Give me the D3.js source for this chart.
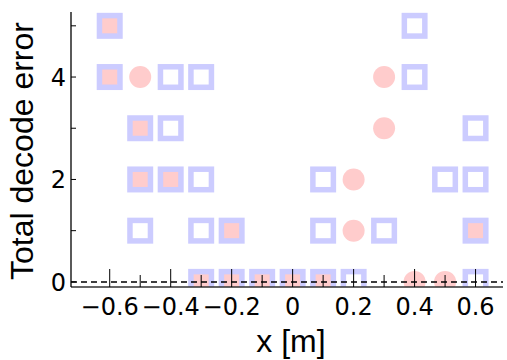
<!DOCTYPE html>
<html>
<head>
<meta charset="utf-8">
<script src="https://cdn.jsdelivr.net/npm/d3@7"></script>
<style>
  html, body { margin: 0; padding: 0; background: #fff; }
  svg { display: block; }
  text { fill: #000; }
  .tick-label { font-family: "DejaVu Sans", sans-serif; font-size: 24px; }
  .axis-title { font-family: "Liberation Sans", Arial, sans-serif; font-size: 32px; }
</style>
</head>
<body>
<svg id="chart" width="507" height="360"></svg>
<script>
// ---- data ----
// pink circles: position [m] and total decode error
const circleX   = [-0.6, -0.6, -0.5, -0.5, -0.5, -0.4, -0.3, -0.2, -0.2, -0.1, 0.0, 0.1, 0.2, 0.2, 0.3, 0.3, 0.4, 0.5, 0.6];
const circleErr = [ 5,    4,    4,    3,    2,    2,    0,    1,    0,    0,   0,   0,   2,   1,   4,   3,   0,   0,   1 ];
// blue hollow squares
const squareX   = [-0.6, -0.6, -0.5, -0.5, -0.5, -0.4, -0.4, -0.4, -0.3, -0.3, -0.3, -0.3, -0.2, -0.2, -0.1, 0.0, 0.1, 0.1, 0.1, 0.2, 0.3, 0.4, 0.4, 0.5, 0.6, 0.6, 0.6, 0.6];
const squareErr = [ 5,    4,    3,    2,    1,    4,    3,    2,    4,    2,    1,    0,    1,    0,    0,   0,   2,   1,   0,   0,   1,   5,   4,   2,   3,   2,   1,   0 ];
const xMajorTicks = [-0.6, -0.4, -0.2, 0, 0.2, 0.4, 0.6];
const xMinorTicks = [-0.5, -0.3, -0.1, 0.1, 0.3, 0.5];
const yTicks      = [0, 1, 2, 3, 4, 5];
const yTickLabels = [0, 2, 4];
const baseline    = 0;

// ---- layout ----
const svg = d3.select("#chart");
const L = 71, R = 503, T = 12, B = 287;
const x = d3.scaleLinear().domain([-0.727, 0.69]).range([L, R]);
const y = d3.scaleLinear().domain([-0.1, 5.27]).range([B, T]);
const blue = "#ccccff", pink = "#ffcccc";

svg.append("defs").append("clipPath").attr("id", "plotclip")
  .append("rect").attr("x", L).attr("y", T).attr("width", R - L).attr("height", B - T);

const plot = svg.append("g").attr("clip-path", "url(#plotclip)");

// pink circles (under)
plot.append("g").selectAll("circle")
  .data(d3.zip(circleX, circleErr))
  .join("circle")
  .attr("cx", d => x(d[0]))
  .attr("cy", d => y(d[1]))
  .attr("r", 11)
  .attr("fill", pink);

// blue hollow squares (over)
const side = 20.5;
plot.append("g").selectAll("rect")
  .data(d3.zip(squareX, squareErr))
  .join("rect")
  .attr("x", d => x(d[0]) - side / 2)
  .attr("y", d => y(d[1]) - side / 2)
  .attr("width", side)
  .attr("height", side)
  .attr("fill", "none")
  .attr("stroke", blue)
  .attr("stroke-width", 5.5);

// dashed reference line at zero
svg.append("line")
  .attr("x1", L).attr("x2", R)
  .attr("y1", y(baseline)).attr("y2", y(baseline))
  .attr("stroke", "#000").attr("stroke-width", 1.5)
  .attr("stroke-dasharray", "6,4");

// x axis (ticks inward)
const fmt = d => d === 0 ? "0" : d3.format(".1f")(d).replace("-", "\u2212");
const xAxis = svg.append("g").attr("transform", `translate(0,${B})`);
xAxis.append("line").attr("x1", L).attr("x2", R).attr("y1", 0).attr("y2", 0)
  .attr("stroke", "#333").attr("stroke-width", 1.5);
xAxis.selectAll("line.major").data(xMajorTicks).join("line").attr("class", "major")
  .attr("x1", d => x(d)).attr("x2", d => x(d)).attr("y1", 0).attr("y2", -18)
  .attr("stroke", "#000").attr("stroke-width", 1);
xAxis.selectAll("line.minor").data(xMinorTicks).join("line").attr("class", "minor")
  .attr("x1", d => x(d)).attr("x2", d => x(d)).attr("y1", 0).attr("y2", -12)
  .attr("stroke", "#000").attr("stroke-width", 1);
xAxis.selectAll("text").data(xMajorTicks).join("text")
  .attr("class", "tick-label")
  .attr("x", d => x(d)).attr("y", 28)
  .attr("text-anchor", "middle")
  .text(fmt);

// y axis (ticks inward)
const yAxis = svg.append("g").attr("transform", `translate(${L},0)`);
yAxis.append("line").attr("x1", 0).attr("x2", 0).attr("y1", T).attr("y2", B)
  .attr("stroke", "#000").attr("stroke-width", 1.3);
yAxis.selectAll("line.tick").data(yTicks).join("line").attr("class", "tick")
  .attr("x1", 0).attr("x2", 5).attr("y1", d => y(d)).attr("y2", d => y(d))
  .attr("stroke", "#000").attr("stroke-width", 1);
yAxis.selectAll("text").data(yTickLabels).join("text")
  .attr("class", "tick-label")
  .attr("x", -5).attr("y", d => y(d)).attr("dy", "0.36em")
  .attr("text-anchor", "end")
  .text(d => String(d));

// axis titles
svg.append("text")
  .attr("class", "axis-title")
  .attr("x", 291).attr("y", 352)
  .attr("text-anchor", "middle")
  .text("x [m]");
svg.append("text")
  .attr("class", "axis-title")
  .attr("transform", "translate(33,151) rotate(-90)")
  .attr("text-anchor", "middle")
  .text("Total decode error");
</script>
</body>
</html>
